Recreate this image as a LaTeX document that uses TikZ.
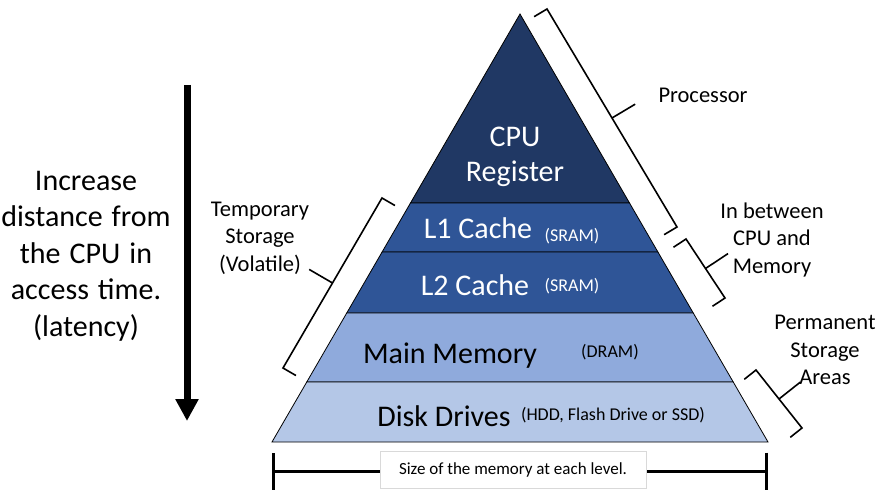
\documentclass[tikz,border=0pt]{standalone}
\usepackage{fontspec}
\setmainfont{Carlito}
\usetikzlibrary{calc,arrows.meta}

\definecolor{cpucol}{HTML}{203864}
\definecolor{cachecol}{HTML}{2F5597}
\definecolor{dramcol}{HTML}{8FAADC}
\definecolor{diskcol}{HTML}{B4C7E7}
\definecolor{boxgrey}{HTML}{D9D9D9}

\newcommand{\widewords}{\setlength{\spaceskip}{0.3em}}

\tikzset{
  layer/.style={draw=black, line width=0.8pt},
  bigtext/.style={font=\fontsize{30}{35}\selectfont, align=center},
  sidetext/.style={font=\fontsize{22.5}{27.5}\selectfont, align=center},
  smalltext/.style={font=\fontsize{18}{20}\selectfont},
  bracket/.style={line width=1.6pt, line join=miter},
  sizebox/.style={draw=boxgrey, fill=white, minimum width=266pt, minimum height=37pt,
    font=\fontsize{17}{20}\selectfont},
}

% brace along a pyramid edge: #1 start corner, #2 end corner (outer side on the left)
\newcommand{\levelbrace}[2]{%
  \coordinate (#1-mid) at ($(#1)!0.5!(#2)$);
  \draw[bracket] ($(#1)!15pt!-90:(#2)$) -- (#1) -- (#1-mid) -- (#2) -- ($(#2)!15pt!90:(#1)$);
  \draw[bracket] (#1-mid) -- ($(#1-mid)!27pt!90:(#2)$);
}

\begin{document}
\begin{tikzpicture}[x=1pt, y=-1pt]
  \useasboundingbox (0,0) rectangle (879,497);

  \coordinate (apex) at (520,14);
  \coordinate (baseL) at (272,442);
  \coordinate (baseR) at (768,442);

  % the levels of the pyramid
  \foreach \a/\b/\col in {0/0.4416/cpucol, 0.4416/0.556/cachecol, 0.556/0.6986/cachecol,
                          0.6986/0.86/dramcol, 0.86/1/diskcol}
    \filldraw[layer, fill=\col] ($(apex)!\a!(baseL)$) -- ($(apex)!\a!(baseR)$)
      -- ($(apex)!\b!(baseR)$) -- ($(apex)!\b!(baseL)$) -- cycle;

  \node[bigtext, text=white] (cpu) at (515,157) {CPU\\Register};
  \node[bigtext, text=white, anchor=base] (l1) at (478,239) {L1 Cache};
  \node[smalltext, text=white, anchor=base] (l1type) at (572,242) {(SRAM)};
  \node[bigtext, text=white, anchor=base] (l2) at (475,296) {L2 Cache};
  \node[smalltext, text=white, anchor=base] (l2type) at (572,292) {(SRAM)};
  \node[bigtext, anchor=base] (ram) at (450,363) {Main Memory};
  \node[smalltext, anchor=base] (ramtype) at (610,357) {(DRAM)};
  \node[bigtext, anchor=base] (disk) at (444,426) {Disk Drives};
  \node[smalltext, anchor=base] (disktype) at (613,420) {(HDD, Flash Drive or SSD)};

  % braces and their labels
  \coordinate (procA) at (547,9);
  \coordinate (procB) at (677,227);
  \levelbrace{procA}{procB}
  \node[sidetext] (proc) at (703,95) {Processor};

  \coordinate (betwA) at (686,239);
  \coordinate (betwB) at (725,298);
  \levelbrace{betwA}{betwB}
  \node[sidetext] (betw) at (772,240) {In between\\CPU and\\Memory};

  \coordinate (permA) at (756,370);
  \coordinate (permB) at (802,428);
  \levelbrace{permA}{permB}
  \node[sidetext] (perm) at (825,350) {Permanent\\Storage\\Areas};

  \coordinate (tempA) at (283,368);
  \coordinate (tempB) at (382,198);
  \levelbrace{tempA}{tempB}
  \node[sidetext] (temp) at (260,238) {Temporary\\Storage\\(Volatile)};

  % access time arrow
  \coordinate (near) at (187,85);
  \coordinate (far) at (187,421);
  \draw[line width=7pt, -{Triangle[width=22pt,length=22pt]}] (near) -- (far);
  \node[bigtext, font=\fontsize{30}{36.5}\selectfont\widewords]
    (latency) at (86,256) {Increase\\distance from\\the CPU in\\access time.\\(latency)};

  % size scale
  \coordinate (sizeL) at (272,471);
  \coordinate (sizeR) at (768,471);
  \draw[line width=3pt, {Bar[width=37pt]}-{Bar[width=37pt]}] (sizeL) -- (sizeR);
  \node[sizebox] (size) at (513,470) {Size of the memory at each level.};
\end{tikzpicture}
\end{document}
